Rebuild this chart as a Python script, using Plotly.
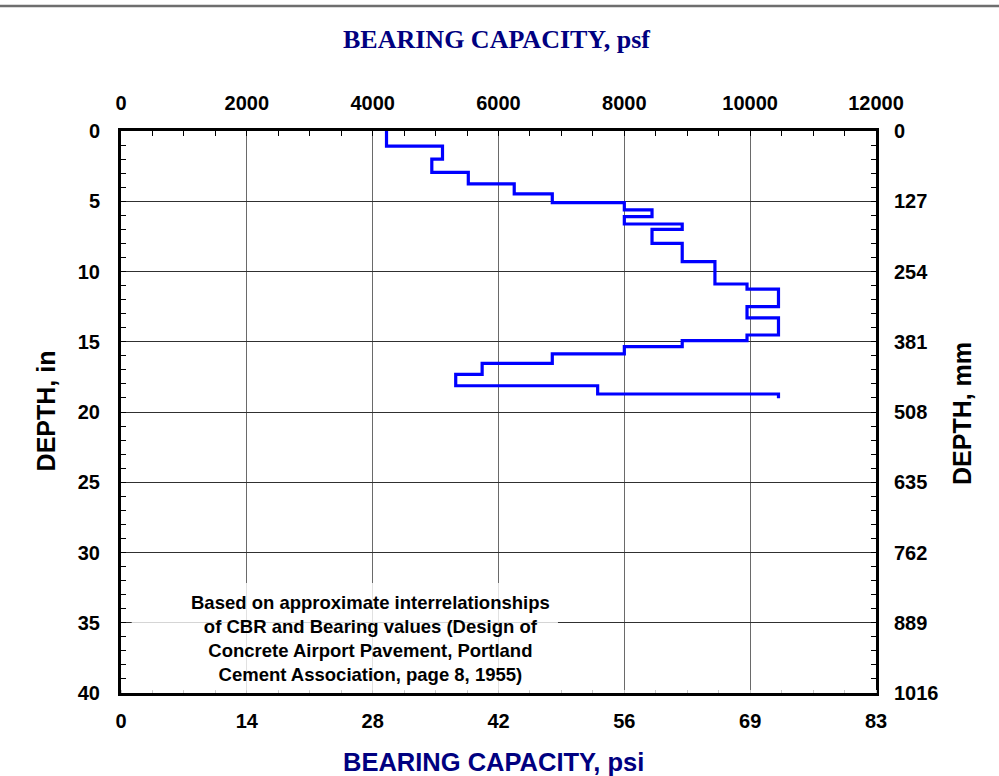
import plotly.graph_objects as go

# Bearing capacity profile: each value holds from its layer-top depth down to the next depth
layer_top_depth_in = [0.0, 1.07, 2.0, 2.94, 3.77, 4.48, 5.1, 5.62, 6.1, 6.62, 7.0, 8.0, 9.3,
                      10.89, 11.25, 12.5, 13.3, 14.52, 14.92, 15.35, 15.87, 16.54, 17.32,
                      18.13, 18.72, 19.03]
bearing_psf = [4220, 5110, 4940, 5520, 6250, 6855, 8000, 8440, 8000, 8920, 8440, 8920, 9440,
               9950, 10450, 9950, 10450, 9950, 8920, 8000, 6855, 5740, 5320,
               7576, 10450, 10450]

psf_ticks = [0, 2000, 4000, 6000, 8000, 10000, 12000]
psf_labels = [str(v) for v in psf_ticks]
psi_labels = [str(round(v / 144)) for v in psf_ticks]
depth_ticks_in = [0, 5, 10, 15, 20, 25, 30, 35, 40]
depth_labels_in = [str(v) for v in depth_ticks_in]
mm_labels = [str(round(v * 25.4)) for v in depth_ticks_in]

note_lines = ["Based on approximate interrelationships",
              "of CBR and Bearing values (Design of",
              "Concrete Airport Pavement, Portland",
              "Cement Association, page 8, 1955)"]

SANS = "Liberation Sans"
tick_font = dict(family=SANS, size=20, color="black", weight="bold")
navy = "#000080"

fig = go.Figure()
# profile drawn on the psf (bottom, labelled in psi) / inch axes
fig.add_trace(go.Scatter(
    x=bearing_psf, y=layer_top_depth_in, xaxis="x", yaxis="y",
    mode="lines", line=dict(color="#0000FF", width=3.2, shape="vh"),
    showlegend=False, hoverinfo="skip"))
# placeholder trace so the top / right axes are drawn
fig.add_trace(go.Scatter(x=[0], y=[0], xaxis="x2", yaxis="y2", mode="markers",
                         marker=dict(opacity=0), showlegend=False, hoverinfo="skip"))

frame = dict(showline=True, linewidth=3, linecolor="black", zeroline=False)

fig.update_layout(
    width=999, height=776, autosize=False,
    margin=dict(l=121, r=123, t=131, b=83),
    paper_bgcolor="white", plot_bgcolor="white",
    xaxis=dict(range=[0, 12000], side="bottom", tickmode="array",
               tickvals=psf_ticks, ticktext=psi_labels, tickfont=tick_font,
               ticks="", showgrid=True, gridcolor="#6a6a6a", gridwidth=1,
               ticklabelstandoff=8,
               minor=dict(dtick=500, ticks="inside", ticklen=3, tickcolor="#c8c8c8",
                          showgrid=False),
               **frame),
    xaxis2=dict(range=[0, 12000], side="top", overlaying="x", tickmode="array",
                tickvals=psf_ticks, ticktext=psf_labels, tickfont=tick_font,
                ticks="inside", ticklen=5, tickcolor="black", showgrid=False,
                ticklabelstandoff=10,
                minor=dict(dtick=500, ticks="inside", ticklen=5, tickcolor="black",
                           showgrid=False),
                **frame),
    yaxis=dict(range=[40, 0], tickmode="array", tickvals=depth_ticks_in,
               ticktext=depth_labels_in,
               tickfont=tick_font, ticks="inside", ticklen=5, tickcolor="black",
               showgrid=True, gridcolor="#303030", gridwidth=1, ticklabelstandoff=14,
               minor=dict(dtick=1, ticks="inside", ticklen=5, tickcolor="black",
                          showgrid=False),
               **frame),
    yaxis2=dict(range=[40, 0], side="right", overlaying="y", tickmode="array",
                tickvals=depth_ticks_in, ticktext=mm_labels, tickfont=tick_font,
                ticks="inside", ticklen=5, tickcolor="black", showgrid=False,
                ticklabelstandoff=11,
                minor=dict(dtick=1, ticks="inside", ticklen=5, tickcolor="black",
                           showgrid=False),
                **frame),
    shapes=[
        # translucent panel behind the source note
        dict(type="rect", xref="x", yref="y", x0=170, x1=6945, y0=32.17, y1=39.8,
             fillcolor="white", opacity=0.8, line=dict(width=0), layer="above"),
        # page rule across the top
        dict(type="line", xref="paper", yref="paper", x0=-0.17, x1=1.17,
             y0=1.2225, y1=1.2225, line=dict(color="#6e6e6e", width=2.5)),
    ],
    annotations=[
        dict(text="BEARING CAPACITY, psf", xref="paper", yref="paper",
             x=0.497, y=1.162, showarrow=False, xanchor="center", yanchor="middle",
             font=dict(family="Liberation Serif", size=26, color=navy, weight="bold")),
        dict(text="BEARING CAPACITY, psi", xref="paper", yref="paper",
             x=0.494, y=-0.1228, showarrow=False, xanchor="center", yanchor="middle",
             font=dict(family=SANS, size=25.5, color=navy, weight="bold")),
        dict(text="DEPTH, in", xref="paper", yref="paper", x=-0.1, y=0.502,
             textangle=-90, showarrow=False, xanchor="center", yanchor="middle",
             font=dict(family=SANS, size=25, color="black", weight="bold")),
        dict(text="DEPTH, mm", xref="paper", yref="paper", x=1.113, y=0.497,
             textangle=-90, showarrow=False, xanchor="center", yanchor="middle",
             font=dict(family=SANS, size=25, color="black", weight="bold")),
        dict(text="<br>".join(note_lines), xref="paper", yref="paper",
             x=0.331, y=0.097, showarrow=False, xanchor="center", yanchor="middle",
             align="center",
             font=dict(family=SANS, size=18.5, color="black", weight="bold")),
    ],
)

fig.write_html("out.html")
